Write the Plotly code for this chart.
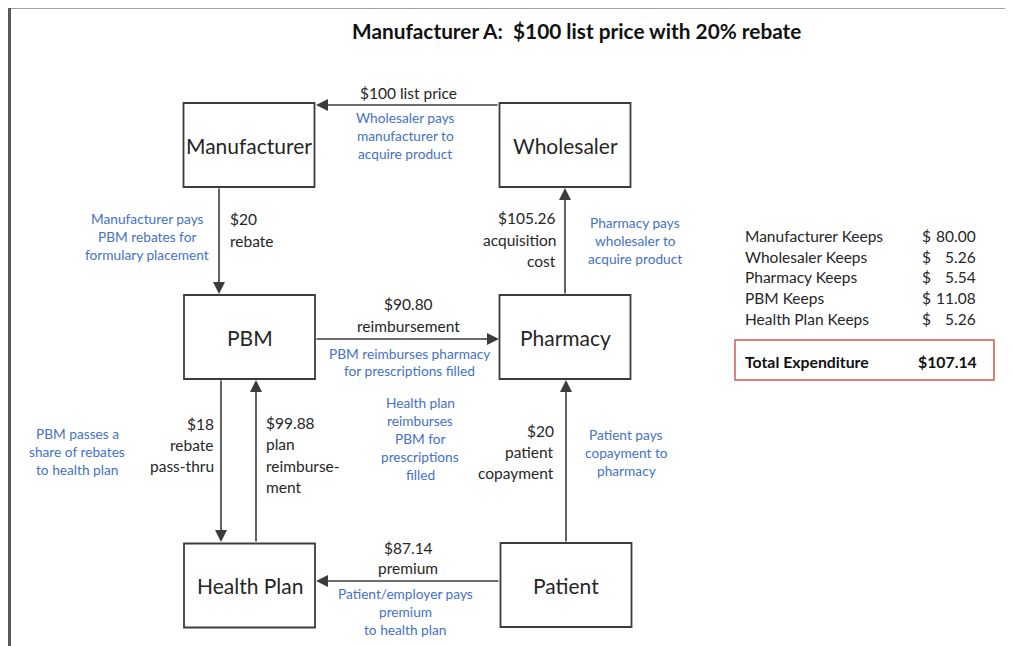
import plotly.graph_objects as go

# ---------------- data ----------------
title_text = "Manufacturer A:\u00a0 $100 list price with 20% rebate"
nodes = ["Manufacturer", "Wholesaler", "PBM", "Pharmacy", "Health Plan", "Patient"]

flow_src = ["Wholesaler", "Manufacturer", "Pharmacy", "PBM", "PBM", "Health Plan", "Patient", "Patient"]
flow_dst = ["Manufacturer", "PBM", "Wholesaler", "Pharmacy", "Health Plan", "PBM", "Pharmacy", "Health Plan"]
flow_amounts = ["$100", "$20", "$105.26", "$90.80", "$18", "$99.88", "$20", "$87.14"]
flow_labels = [
    ["$100 list price"],
    ["$20", "rebate"],
    ["$105.26", "acquisition", "cost"],
    ["$90.80", "reimbursement"],
    ["$18", "rebate", "pass-thru"],
    ["$99.88", "plan", "reimburse-", "ment"],
    ["$20", "patient", "copayment"],
    ["$87.14", "premium"],
]
flow_notes = [
    ["Wholesaler pays", "manufacturer to", "acquire product"],
    ["Manufacturer pays", "PBM rebates for", "formulary placement"],
    ["Pharmacy pays", "wholesaler to", "acquire product"],
    ["PBM reimburses pharmacy", "for prescriptions filled"],
    ["PBM passes a", "share of rebates", "to health plan"],
    ["Health plan", "reimburses", "PBM for", "prescriptions", "filled"],
    ["Patient pays", "copayment to", "pharmacy"],
    ["Patient/employer pays", "premium", "to health plan"],
]

keep_labels = ["Manufacturer Keeps", "Wholesaler Keeps", "Pharmacy Keeps", "PBM Keeps", "Health Plan Keeps"]
keep_values = [80.00, 5.26, 5.54, 11.08, 5.26]
total_label = "Total Expenditure"
total_value = 107.14

# ---------------- layout / style ----------------
W, H = 1013, 646
OFF = 8  # page body margin offset compensation
FONT = "Lato"
DARK = "#262626"
LINE = "#3c3c3c"
BLUE = "#4472C4"

box_center = {
    "Manufacturer": (249, 145), "Wholesaler": (565, 145),
    "PBM": (249.5, 337), "Pharmacy": (565, 337),
    "Health Plan": (249.5, 585.5), "Patient": (566, 585),
}
box_w, box_h = 131, 84

arrow_geo = [
    ((499, 105), (316, 105)),
    ((219, 187), (219, 294)),
    ((565, 295), (565, 188)),
    ((315, 339), (499, 339)),
    ((221, 379), (221, 542)),
    ((256, 543), (256, 380)),
    ((566, 543), (566, 380)),
    ((500, 581), (316, 581)),
]
label_pos = [
    (408, 93, 21, "center"),
    (228, 219, 22, "left"),
    (558, 218, 21.5, "right"),
    (408, 304, 22, "center"),
    (216, 424, 21, "right"),
    (264, 423, 21.3, "left"),
    (556, 431, 21, "right"),
    (408, 548, 20, "center"),
]
note_pos = [
    (405, 117, 18),
    (147, 218, 18),
    (635, 222, 18),
    (409, 353, 17.5),
    (77, 433, 18),
    (420, 402, 18),
    (626, 434, 18),
    (405, 593, 18),
]

fig = go.Figure()
fig.add_trace(go.Scatter(x=[OFF, W], y=[OFF, H], mode="markers",
                         marker=dict(opacity=0), hoverinfo="skip", showlegend=False))

shapes = []
annotations = []

# outer frame
shapes.append(dict(type="line", xref="x", yref="y", x0=9, y0=7.5, x1=W + 20, y1=7.5,
                   line=dict(color="#444444", width=2)))
shapes.append(dict(type="line", xref="x", yref="y", x0=9.5, y0=7, x1=9.5, y1=H + 20,
                   line=dict(color="#5a5a5a", width=3)))

annotations.append(dict(x=576, y=30, xref="x", yref="y", text="<b>" + title_text + "</b>",
                        showarrow=False, xanchor="center", yanchor="middle",
                        font=dict(family=FONT, size=20.8, color="#111111")))

for name in nodes:
    cx, cy = box_center[name]
    shapes.append(dict(type="rect", xref="x", yref="y",
                       x0=cx - box_w / 2, x1=cx + box_w / 2,
                       y0=cy - box_h / 2, y1=cy + box_h / 2,
                       line=dict(color=LINE, width=1.8), fillcolor="white"))
    annotations.append(dict(x=cx, y=cy, xref="x", yref="y", text=name, showarrow=False,
                            xanchor="center", yanchor="middle",
                            font=dict(family=FONT, size=21, color=DARK)))

for (tail, head) in arrow_geo:
    annotations.append(dict(x=head[0], y=head[1], ax=tail[0], ay=tail[1],
                            xref="x", yref="y", axref="x", ayref="y", text="",
                            showarrow=True, arrowhead=2, arrowsize=1.5, arrowwidth=1.6,
                            arrowcolor=LINE, standoff=0, startstandoff=0))

for amt, lines, (lx, ly, step, anc) in zip(flow_amounts, flow_labels, label_pos):
    for i, t in enumerate(lines):
        annotations.append(dict(x=lx, y=ly + i * step, xref="x", yref="y", text=t,
                                showarrow=False, xanchor=anc, yanchor="middle",
                                font=dict(family=FONT, size=15.5, color=DARK)))

for lines, (nx, ny, step) in zip(flow_notes, note_pos):
    for i, t in enumerate(lines):
        annotations.append(dict(x=nx, y=ny + i * step, xref="x", yref="y", text=t,
                                showarrow=False, xanchor="center", yanchor="middle",
                                font=dict(family=FONT, size=13.7, color=BLUE)))

row_y0, row_step = 236, 20.7
for i, (lab, val) in enumerate(zip(keep_labels, keep_values)):
    y = row_y0 + i * row_step
    annotations.append(dict(x=743, y=y, xref="x", yref="y", text=lab, showarrow=False,
                            xanchor="left", yanchor="middle",
                            font=dict(family=FONT, size=15.5, color=DARK)))
    annotations.append(dict(x=920, y=y, xref="x", yref="y", text="$", showarrow=False,
                            xanchor="left", yanchor="middle",
                            font=dict(family=FONT, size=15.5, color=DARK)))
    annotations.append(dict(x=978, y=y, xref="x", yref="y", text=f"{val:.2f}", showarrow=False,
                            xanchor="right", yanchor="middle",
                            font=dict(family=FONT, size=15.5, color=DARK)))

shapes.append(dict(type="rect", xref="x", yref="y", x0=735, x1=994, y0=340, y1=380,
                   line=dict(color="#d9534f", width=1.5), fillcolor="rgba(0,0,0,0)"))
annotations.append(dict(x=743, y=361, xref="x", yref="y", text="<b>" + total_label + "</b>",
                        showarrow=False, xanchor="left", yanchor="middle",
                        font=dict(family=FONT, size=15.8, color="#111111")))
annotations.append(dict(x=979, y=361, xref="x", yref="y", text=f"<b>${total_value:.2f}</b>",
                        showarrow=False, xanchor="right", yanchor="middle",
                        font=dict(family=FONT, size=15.8, color="#111111")))

fig.update_layout(
    width=W, height=H, margin=dict(l=0, r=0, t=0, b=0),
    paper_bgcolor="white", plot_bgcolor="white",
    xaxis=dict(range=[OFF, W + OFF], visible=False, fixedrange=True),
    yaxis=dict(range=[H + OFF, OFF], visible=False, fixedrange=True),
    shapes=shapes, annotations=annotations, showlegend=False,
)
fig.write_html("out.html")
